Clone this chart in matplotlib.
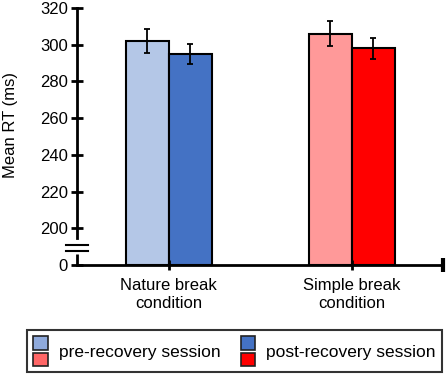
import numpy as np
import matplotlib
matplotlib.use('Agg')
import matplotlib.pyplot as plt
from matplotlib.patches import Patch, Rectangle
from matplotlib.legend_handler import HandlerBase

plt.rcParams['font.family'] = ['Liberation Sans', 'DejaVu Sans']

# dados
conditions = ['Nature break\ncondition', 'Simple break\ncondition']
sessions = ['pre-recovery session', 'post-recovery session']
pre_rt = [302, 306]
post_rt = [295, 298]
pre_err = [6.6, 6.8]
post_err = [5.4, 5.6]
y_ticks = [0, 200, 220, 240, 260, 280, 300, 320]

bar_colors = {'pre': ['#B4C7E7', '#FF9999'], 'post': ['#4472C4', '#FF0000']}
legend_colors = {'pre': ('#8FAADC', '#FF6666'), 'post': ('#4472C4', '#FF0000')}


# eixo y quebrado: 0-200 comprimido
def fwd(y):
    y = np.asarray(y, dtype=float)
    return np.where(y < 200, 180 + y * 0.1, y)


def inv(y):
    y = np.asarray(y, dtype=float)
    return np.where(y < 200, (y - 180) * 10, y)


class StackedSquares(HandlerBase):
    def create_artists(self, legend, orig_handle, xdescent, ydescent,
                       width, height, fontsize, trans):
        top, bottom = orig_handle
        gap = 2
        h = (height - gap) / 2
        x0, y0 = -xdescent, -ydescent
        arts = []
        for p, yy in [(bottom, y0), (top, y0 + h + gap)]:
            r = Rectangle((x0, yy), width, h, facecolor=p.get_facecolor(),
                          edgecolor='#222222', lw=1.2, transform=trans)
            arts.append(r)
        return arts


fig = plt.figure(figsize=(4.47, 3.74), dpi=100)
ax = fig.add_axes([77 / 447, 1 - 265 / 374, 366 / 447, 257 / 374])
ax.set_yscale('function', functions=(fwd, inv))
ax.set_ylim(0, 320)
ax.set_xlim(0, 2)

x = np.arange(len(conditions)) + 0.5
w = 43 / 183
ax.bar(x - w / 2, pre_rt, w, color=bar_colors['pre'], edgecolor='black', lw=1.5,
       yerr=pre_err, error_kw=dict(ecolor='black', elinewidth=1.3, capsize=2.5, capthick=1.3))
ax.bar(x + w / 2, post_rt, w, color=bar_colors['post'], edgecolor='black', lw=1.5,
       yerr=post_err, error_kw=dict(ecolor='black', elinewidth=1.3, capsize=2.5, capthick=1.3))

for s in ['top', 'right']:
    ax.spines[s].set_visible(False)
for s in ['left', 'bottom']:
    ax.spines[s].set_linewidth(2)
ax.spines['left'].set_bounds(146, 320)
ax.plot([0, 0], [0, 59], color='black', lw=2, clip_on=False, solid_capstyle='butt')
for yb in [108, 76]:
    ax.plot([-11 / 366 * 2, 11 / 366 * 2], [yb, yb], color='black', lw=1.5, clip_on=False)

ax.set_yticks(y_ticks)
ax.set_yticklabels([str(t) for t in y_ticks])
ax.set_xticks(x)
ax.set_xticklabels(conditions)
ax.set_xticks([2.0], minor=True)
ax.tick_params(axis='y', direction='inout', length=8, width=2, pad=2.5, labelsize=12)
ax.tick_params(axis='x', which='major', direction='inout', length=7, width=2, pad=6,
               labelsize=12)
ax.tick_params(axis='x', which='minor', direction='inout', length=10, width=3)
ax.set_ylabel('Mean RT (ms)', fontsize=12)
ax.yaxis.set_label_coords(-0.16, 0.545)

handles = [(Patch(facecolor=legend_colors['pre'][0]), Patch(facecolor=legend_colors['pre'][1])),
           (Patch(facecolor=legend_colors['post'][0]), Patch(facecolor=legend_colors['post'][1]))]
leg = fig.legend(handles, sessions, handler_map={tuple: StackedSquares()},
                 loc='lower center', bbox_to_anchor=(234.5 / 447, 0.005), ncol=2,
                 fontsize=12.5, frameon=True, fancybox=False, handlelength=0.86,
                 handleheight=2.25, handletextpad=0.63, columnspacing=1.15,
                 borderpad=0.35, borderaxespad=0)
leg.get_frame().set_edgecolor('black')
leg.get_frame().set_linewidth(1.5)

fig.savefig('out.png', dpi=100)
